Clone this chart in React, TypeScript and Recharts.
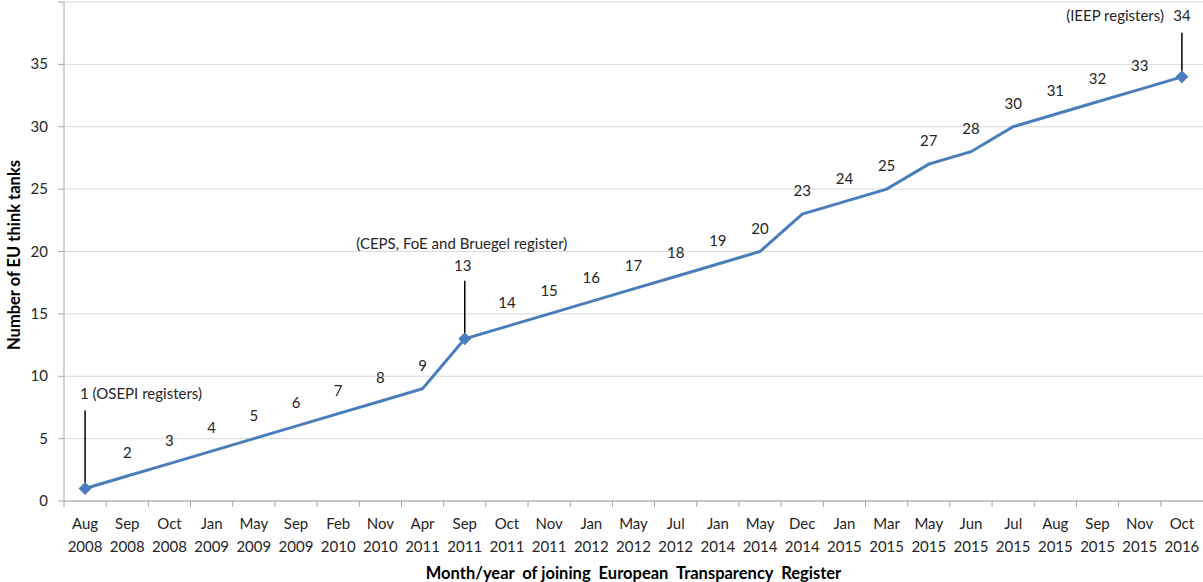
import React from "react";
import { LineChart, Line, XAxis, YAxis, CartesianGrid, LabelList, Label } from "recharts";

const W = 1203;
const H = 582;
const PLOT_LEFT = 64;

const months = ["Aug", "Sep", "Oct", "Jan", "May", "Sep", "Feb", "Nov", "Apr", "Sep", "Oct", "Nov", "Jan", "May", "Jul", "Jan", "May", "Dec", "Jan", "Mar", "May", "Jun", "Jul", "Aug", "Sep", "Nov", "Oct"];
const years = ["2008", "2008", "2008", "2009", "2009", "2009", "2010", "2010", "2011", "2011", "2011", "2011", "2012", "2012", "2012", "2014", "2014", "2014", "2015", "2015", "2015", "2015", "2015", "2015", "2015", "2015", "2016"];
const thinkTanks = [1, 2, 3, 4, 5, 6, 7, 8, 9, 13, 14, 15, 16, 17, 18, 19, 20, 23, 24, 25, 27, 28, 30, 31, 32, 33, 34];
const yTicks = [0, 5, 10, 15, 20, 25, 30, 35, 40];

// annotated registrations
const noteIndex = [0, 9, 26];
const noteText = ["(OSEPI registers)", "(CEPS, FoE and Bruegel register)", "(IEEP registers)"];

const data = months.map((m, i) => ({ key: i, month: m, year: years[i], value: thinkTanks[i] }));

const FONT = "Lato, 'Open Sans', sans-serif";
const TEXT = "#262626";
const BLUE = "#4a7ebb";
const BAND = (W - PLOT_LEFT) / months.length;
const NB = "\u00A0";

const XTick = (props: any) => {
  const { x, y, payload } = props;
  const i = payload.value;
  return (
    <g>
      <line x1={x - BAND / 2} y1={y - 8} x2={x - BAND / 2} y2={y - 2} stroke="#a6a6a6" />
      <text x={x} y={y + 20} textAnchor="middle" fill={TEXT} fontSize={15} fontFamily={FONT}>
        {months[i]}
      </text>
      <text x={x} y={y + 43} textAnchor="middle" fill={TEXT} fontSize={15} fontFamily={FONT}>
        {years[i]}
      </text>
    </g>
  );
};

const YTick = (props: any) => {
  const { x, y, payload } = props;
  if (payload.value === 40) return null;
  return (
    <text x={x} y={y + 5} textAnchor="end" fill={TEXT} fontSize={15} fontFamily={FONT}>
      {payload.value}
    </text>
  );
};

const YTitle = () => (
  <text
    transform="translate(14, 255) rotate(-90)"
    textAnchor="middle"
    dominantBaseline="central"
    fill="#000"
    fontSize={16.5}
    fontWeight={700}
    fontFamily={FONT}
  >
    Number of EU think tanks
  </text>
);

const Diamond = (props: any) => {
  const { cx, cy, index } = props;
  if (!noteIndex.includes(index)) return <g key={index} />;
  const r = 6.5;
  return (
    <path
      key={index}
      d={`M${cx},${cy - r}L${cx + r},${cy}L${cx},${cy + r}L${cx - r},${cy}Z`}
      fill={BLUE}
    />
  );
};

const PointLabel = (props: any) => {
  const { x, y, value, index } = props;
  const n = noteIndex.indexOf(index);
  const base = { fill: TEXT, fontSize: 15, fontFamily: FONT };
  if (n === 0) {
    return (
      <g>
        <line x1={x} y1={y - 6} x2={x} y2={y - 78} stroke="#000" strokeWidth={1.5} />
        <text x={x - 5} y={y - 90} textAnchor="start" {...base}>
          {`${value} ${noteText[0]}`}
        </text>
      </g>
    );
  }
  if (n === 1) {
    return (
      <g>
        <line x1={x} y1={y - 6} x2={x} y2={y - 58} stroke="#000" strokeWidth={1.5} />
        <text x={x - 2} y={y - 68} textAnchor="middle" {...base}>
          {value}
        </text>
        <text x={x - 3} y={y - 90} textAnchor="middle" {...base}>
          {noteText[1]}
        </text>
      </g>
    );
  }
  if (n === 2) {
    return (
      <g>
        <line x1={x} y1={y - 6} x2={x} y2={y - 44} stroke="#000" strokeWidth={1.5} />
        <text x={x} y={y - 56} textAnchor="middle" {...base}>
          {value}
        </text>
        <text x={x - 18} y={y - 56} textAnchor="end" {...base}>
          {noteText[2]}
        </text>
      </g>
    );
  }
  return (
    <text x={x} y={y - 18} textAnchor="middle" {...base}>
      {value}
    </text>
  );
};

export default function App() {
  return (
    <div style={{ position: "absolute", left: 0, top: 0, width: W, height: H, background: "#fff" }}>
      <LineChart width={W} height={H} data={data} margin={{ top: 2, right: 0, bottom: 0, left: 0 }}>
        <CartesianGrid vertical={false} stroke="#d9d9d9" />
        <XAxis
          dataKey="key"
          type="category"
          height={81}
          padding={{ left: BAND / 2, right: BAND / 2 }}
          axisLine={{ stroke: "#a6a6a6" }}
          tickLine={false}
          interval={0}
          tick={<XTick />}
        >
          <Label
            value={`Month/year${NB} of joining${NB} European${NB} Transparency${NB} Register`}
            position="insideBottom"
            offset={3}
            style={{ fontWeight: 700, fontSize: 16.5, fontFamily: FONT, fill: "#000" }}
          />
        </XAxis>
        <YAxis
          width={PLOT_LEFT}
          domain={[0, 40]}
          ticks={yTicks}
          interval={0}
          axisLine={{ stroke: "#a6a6a6" }}
          tickLine={{ stroke: "#a6a6a6" }}
          tickSize={6}
          tickMargin={10}
          tick={<YTick />}
        >
          <Label content={<YTitle />} />
        </YAxis>
        <Line
          type="linear"
          dataKey="value"
          stroke={BLUE}
          strokeWidth={3}
          dot={<Diamond />}
          activeDot={false}
          isAnimationActive={false}
        >
          <LabelList dataKey="value" content={<PointLabel />} />
        </Line>
      </LineChart>
    </div>
  );
}
